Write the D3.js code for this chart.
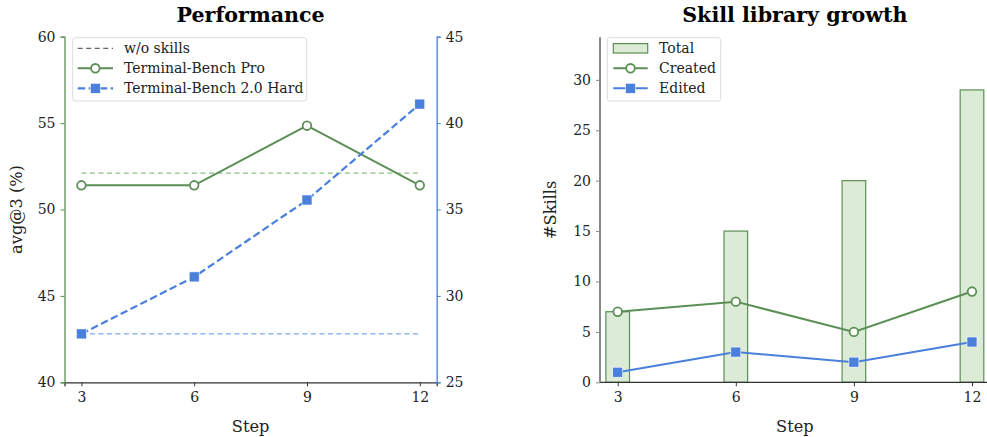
<!DOCTYPE html>
<html><head><meta charset="utf-8">
<script src="https://cdn.jsdelivr.net/npm/d3@7"></script>
<style>body{margin:0;background:#fff}svg{display:block}text{font-family:"DejaVu Serif",serif}</style>
</head><body><svg id="c" width="987" height="437"></svg>
<script>
const steps = [3, 6, 9, 12];
const tbPro = [51.4, 51.4, 54.85, 51.4];
const tbHard = [27.8, 31.1, 35.55, 41.1];
const tbProBase = 52.1;
const tbHardBase = 27.8;
const total = [7, 15, 20, 29];
const created = [7, 8, 5, 9];
const edited = [1, 3, 2, 4];
const leftTicks = [40, 45, 50, 55, 60];
const rightTicks = [25, 30, 35, 40, 45];
const skillTicks = [0, 5, 10, 15, 20, 25, 30];

const GREEN = "#5b8f55", BLUE = "#4a7fdc", GREEN_L = "#8fbf86", BLUE_L = "#7fa7ef", BAR = "#dcebd5";
const svg = d3.select("#c");
const FS = 14;
const LFS = 16.2;
const TFS = 20.6;

function styleAxis(g, color) {
  g.select(".domain").attr("stroke", color).attr("stroke-width", 1.3);
  g.selectAll(".tick line").attr("stroke", color).attr("stroke-width", 1);
  g.selectAll(".tick text").attr("fill", "#222").style("font-size", FS + "px").style("font-family", "DejaVu Serif");
}

// ---------- Left panel ----------
const L = {x0: 64.5, x1: 436.7, y0: 382.3, y1: 36.7};
const xL = d3.scaleLinear().domain([2.55, 12.45]).range([L.x0, L.x1]);
const yL = d3.scaleLinear().domain([40, 60]).range([L.y0, L.y1]);
const yR = d3.scaleLinear().domain([25, 45]).range([L.y0, L.y1]);
const gL = svg.append("g");

gL.append("g").attr("transform", `translate(0,${L.y0})`)
  .call(d3.axisBottom(xL).tickValues(steps).tickSize(4).tickPadding(6))
  .call(g => styleAxis(g, "#333"));
gL.append("g").attr("transform", `translate(${L.x0},0)`)
  .call(d3.axisLeft(yL).tickValues(leftTicks).tickSize(4).tickPadding(5))
  .call(g => styleAxis(g, GREEN));
gL.append("g").attr("transform", `translate(${L.x1},0)`)
  .call(d3.axisRight(yR).tickValues(rightTicks).tickSize(4).tickPadding(5))
  .call(g => styleAxis(g, BLUE));

// baselines
gL.append("line").attr("x1", xL(3)).attr("x2", xL(12)).attr("y1", yL(tbProBase)).attr("y2", yL(tbProBase))
  .attr("stroke", GREEN_L).attr("stroke-width", 1.3).attr("stroke-dasharray", "5,3.5");
gL.append("line").attr("x1", xL(3)).attr("x2", xL(12)).attr("y1", yR(tbHardBase)).attr("y2", yR(tbHardBase))
  .attr("stroke", BLUE_L).attr("stroke-width", 1.3).attr("stroke-dasharray", "5,3.5");

// TB Pro line
gL.append("path").datum(steps.map((s, i) => [s, tbPro[i]]))
  .attr("d", d3.line().x(d => xL(d[0])).y(d => yL(d[1])))
  .attr("fill", "none").attr("stroke", GREEN).attr("stroke-width", 2);
gL.selectAll(".pc").data(steps.map((s, i) => [s, tbPro[i]])).enter().append("circle")
  .attr("cx", d => xL(d[0])).attr("cy", d => yL(d[1])).attr("r", 4.3)
  .attr("fill", "#fff").attr("stroke", GREEN).attr("stroke-width", 1.8);

// TB Hard line
gL.append("path").datum(steps.map((s, i) => [s, tbHard[i]]))
  .attr("d", d3.line().x(d => xL(d[0])).y(d => yR(d[1])))
  .attr("fill", "none").attr("stroke", BLUE).attr("stroke-width", 2.2).attr("stroke-dasharray", "7.5,3.5");
gL.selectAll(".ps").data(steps.map((s, i) => [s, tbHard[i]])).enter().append("rect")
  .attr("x", d => xL(d[0]) - 5).attr("y", d => yR(d[1]) - 5).attr("width", 10).attr("height", 10)
  .attr("fill", BLUE).attr("stroke", "#fff").attr("stroke-width", 0.6);

// title & labels
gL.append("text").attr("x", (L.x0 + L.x1) / 2).attr("y", 22).attr("text-anchor", "middle")
  .style("font-size", TFS + "px").style("font-weight", "bold").text("Performance");
gL.append("text").attr("x", (L.x0 + L.x1) / 2).attr("y", 431.5).attr("text-anchor", "middle")
  .style("font-size", LFS + "px").attr("fill", "#222").text("Step");
gL.append("text").attr("transform", `translate(22,${(L.y0 + L.y1) / 2}) rotate(-90)`).attr("text-anchor", "middle")
  .style("font-size", LFS + "px").attr("fill", "#222").text("avg@3 (%)");

// legend left
const lg = gL.append("g");
lg.append("rect").attr("x", 72.7).attr("y", 37.7).attr("width", 234).attr("height", 63.3).attr("rx", 2.5)
  .attr("fill", "#fff").attr("fill-opacity", 0.85).attr("stroke", "#ddd").attr("stroke-width", 1);
const legL = [
  {label: "w/o skills", type: "base"},
  {label: "Terminal-Bench Pro", type: "pro"},
  {label: "Terminal-Bench 2.0 Hard", type: "hard"}
];
legL.forEach((d, i) => {
  const y = 48.3 + i * 20;
  const hx0 = 77.7, hx1 = 113;
  if (d.type === "base") {
    lg.append("line").attr("x1", hx0).attr("x2", hx1).attr("y1", y).attr("y2", y)
      .attr("stroke", "#666").attr("stroke-width", 1.3).attr("stroke-dasharray", "5,3.5");
  } else if (d.type === "pro") {
    lg.append("line").attr("x1", hx0).attr("x2", hx1).attr("y1", y).attr("y2", y).attr("stroke", GREEN).attr("stroke-width", 2);
    lg.append("circle").attr("cx", (hx0 + hx1) / 2).attr("cy", y).attr("r", 4.3).attr("fill", "#fff").attr("stroke", GREEN).attr("stroke-width", 1.8);
  } else {
    lg.append("line").attr("x1", hx0).attr("x2", hx1).attr("y1", y).attr("y2", y).attr("stroke", BLUE).attr("stroke-width", 2.2).attr("stroke-dasharray", "7.5,3.5");
    lg.append("rect").attr("x", (hx0 + hx1) / 2 - 5).attr("y", y - 5).attr("width", 10).attr("height", 10).attr("fill", BLUE).attr("stroke", "#fff").attr("stroke-width", 0.6);
  }
  lg.append("text").attr("x", 124).attr("y", y + 5).style("font-size", FS + "px").attr("fill", "#222").text(d.label);
});

// ---------- Right panel ----------
const R = {x0: 600, x1: 989.7, y0: 382.3, y1: 37.3};
const xS = d3.scaleLinear().domain([2.55, 12.45]).range([R.x0, R.x1]);
const yS = d3.scaleLinear().domain([0, 29 * 1.18]).range([R.y0, R.y1]);
const gR = svg.append("g");
const bw = 0.6;

gR.selectAll(".bar").data(steps.map((s, i) => [s, total[i]])).enter().append("rect")
  .attr("x", d => xS(d[0] - bw / 2)).attr("y", d => yS(d[1]))
  .attr("width", d => xS(d[0] + bw / 2) - xS(d[0] - bw / 2)).attr("height", d => yS(0) - yS(d[1]))
  .attr("fill", BAR).attr("stroke", GREEN).attr("stroke-width", 1.2);

gR.append("g").attr("transform", `translate(0,${R.y0})`)
  .call(d3.axisBottom(xS).tickValues(steps).tickSize(4).tickPadding(6))
  .call(g => styleAxis(g, "#333"))
  .call(g => g.select(".domain").attr("d", `M${R.x0},0H${R.x1}`));
gR.append("g").attr("transform", `translate(${R.x0},0)`)
  .call(d3.axisLeft(yS).tickValues(skillTicks).tickSize(4).tickPadding(5))
  .call(g => styleAxis(g, "#888"))
  .call(g => g.select(".domain").attr("d", `M0,${R.y0}V${R.y1}`).attr("stroke-width", 2));

gR.append("path").datum(steps.map((s, i) => [s, created[i]]))
  .attr("d", d3.line().x(d => xS(d[0])).y(d => yS(d[1])))
  .attr("fill", "none").attr("stroke", GREEN).attr("stroke-width", 2);
gR.selectAll(".cc").data(steps.map((s, i) => [s, created[i]])).enter().append("circle")
  .attr("cx", d => xS(d[0])).attr("cy", d => yS(d[1])).attr("r", 4.3)
  .attr("fill", "#fff").attr("stroke", GREEN).attr("stroke-width", 1.8);
gR.append("path").datum(steps.map((s, i) => [s, edited[i]]))
  .attr("d", d3.line().x(d => xS(d[0])).y(d => yS(d[1])))
  .attr("fill", "none").attr("stroke", BLUE).attr("stroke-width", 2);
gR.selectAll(".es").data(steps.map((s, i) => [s, edited[i]])).enter().append("rect")
  .attr("x", d => xS(d[0]) - 5).attr("y", d => yS(d[1]) - 5).attr("width", 10).attr("height", 10)
  .attr("fill", BLUE).attr("stroke", "#fff").attr("stroke-width", 0.6);

gR.append("text").attr("x", (R.x0 + R.x1) / 2).attr("y", 22).attr("text-anchor", "middle")
  .style("font-size", TFS + "px").style("font-weight", "bold").text("Skill library growth");
gR.append("text").attr("x", (R.x0 + R.x1) / 2).attr("y", 431.5).attr("text-anchor", "middle")
  .style("font-size", LFS + "px").attr("fill", "#222").text("Step");
gR.append("text").attr("transform", `translate(556,${(R.y0 + R.y1) / 2}) rotate(-90)`).attr("text-anchor", "middle")
  .style("font-size", LFS + "px").attr("fill", "#222").text("#Skills");

const lr = gR.append("g");
lr.append("rect").attr("x", 607.3).attr("y", 37.7).attr("width", 113.4).attr("height", 63.3).attr("rx", 2.5)
  .attr("fill", "#fff").attr("fill-opacity", 0.85).attr("stroke", "#ddd").attr("stroke-width", 1);
const legR = [{label: "Total", type: "bar"}, {label: "Created", type: "c"}, {label: "Edited", type: "e"}];
legR.forEach((d, i) => {
  const y = 48.3 + i * 20;
  const hx0 = 613.3, hx1 = 647.7;
  if (d.type === "bar") {
    lr.append("rect").attr("x", hx0).attr("y", y - 4.7).attr("width", hx1 - hx0).attr("height", 9.4)
      .attr("fill", BAR).attr("stroke", GREEN).attr("stroke-width", 1.2);
  } else if (d.type === "c") {
    lr.append("line").attr("x1", hx0).attr("x2", hx1).attr("y1", y).attr("y2", y).attr("stroke", GREEN).attr("stroke-width", 2);
    lr.append("circle").attr("cx", (hx0 + hx1) / 2).attr("cy", y).attr("r", 4.3).attr("fill", "#fff").attr("stroke", GREEN).attr("stroke-width", 1.8);
  } else {
    lr.append("line").attr("x1", hx0).attr("x2", hx1).attr("y1", y).attr("y2", y).attr("stroke", BLUE).attr("stroke-width", 2);
    lr.append("rect").attr("x", (hx0 + hx1) / 2 - 5).attr("y", y - 5).attr("width", 10).attr("height", 10).attr("fill", BLUE).attr("stroke", "#fff").attr("stroke-width", 0.6);
  }
  lr.append("text").attr("x", 659).attr("y", y + 5).style("font-size", FS + "px").attr("fill", "#222").text(d.label);
});
</script></body></html>
